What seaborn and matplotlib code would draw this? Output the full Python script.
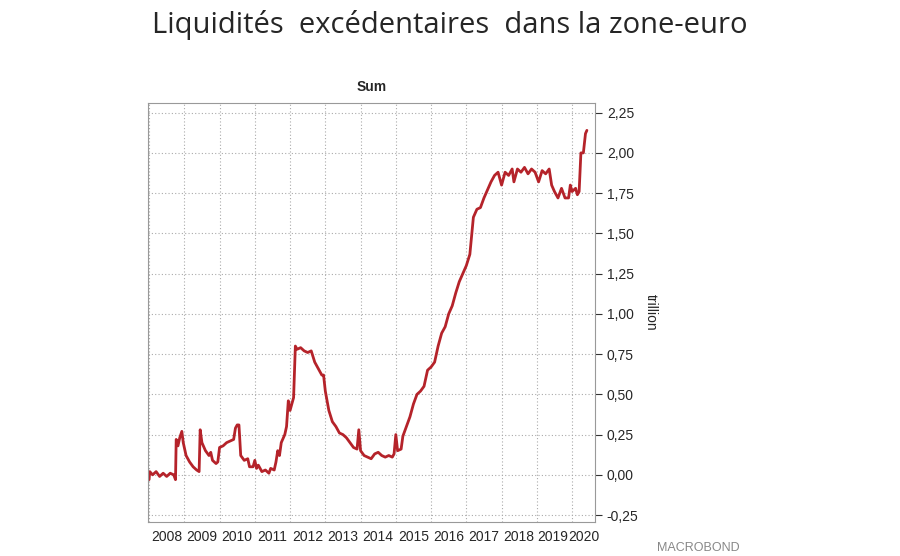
import numpy as np
import pandas as pd
import seaborn as sns
import matplotlib.pyplot as plt

# donnees (annee decimale, trillion EUR)
annee = [2008.0, 2008.02, 2008.1, 2008.2, 2008.3, 2008.4, 2008.5, 2008.6, 2008.7, 2008.75,
         2008.77, 2008.82, 2008.87, 2008.93, 2008.97, 2009.05, 2009.15, 2009.25, 2009.35, 2009.42,
         2009.45, 2009.5, 2009.6, 2009.7, 2009.75, 2009.8, 2009.9, 2009.95, 2010.0, 2010.1,
         2010.2, 2010.3, 2010.4, 2010.45, 2010.5, 2010.55, 2010.6, 2010.7, 2010.8, 2010.85,
         2010.95, 2011.0, 2011.05, 2011.1, 2011.2, 2011.3, 2011.4, 2011.45, 2011.55, 2011.6,
         2011.65, 2011.7, 2011.75, 2011.85, 2011.9, 2011.95, 2012.0, 2012.05, 2012.1, 2012.15,
         2012.2, 2012.3, 2012.4, 2012.5, 2012.6, 2012.7, 2012.8, 2012.9, 2012.95, 2013.0,
         2013.1, 2013.2, 2013.3, 2013.4, 2013.5, 2013.6, 2013.7, 2013.8, 2013.9, 2013.95,
         2014.0, 2014.1, 2014.2, 2014.3, 2014.4, 2014.5, 2014.6, 2014.7, 2014.8, 2014.9,
         2014.95, 2015.0, 2015.05, 2015.15, 2015.2, 2015.3, 2015.4, 2015.5, 2015.6, 2015.7,
         2015.8, 2015.9, 2016.0, 2016.1, 2016.2, 2016.3, 2016.4, 2016.5, 2016.6, 2016.7,
         2016.8, 2016.9, 2017.0, 2017.1, 2017.2, 2017.3, 2017.4, 2017.5, 2017.6, 2017.7,
         2017.8, 2017.9, 2018.0, 2018.1, 2018.2, 2018.3, 2018.35, 2018.45, 2018.55, 2018.65,
         2018.75, 2018.85, 2018.95, 2019.05, 2019.15, 2019.25, 2019.35, 2019.42, 2019.5, 2019.6,
         2019.7, 2019.8, 2019.9, 2019.95, 2020.0, 2020.1, 2020.15, 2020.2, 2020.25, 2020.32,
         2020.38, 2020.42]
liquidite = [-0.03, 0.02, 0.0, 0.02, -0.01, 0.01, -0.01, 0.01, 0.0, -0.03,
             0.22, 0.18, 0.23, 0.27, 0.2, 0.12, 0.08, 0.05, 0.03, 0.02,
             0.28, 0.2, 0.15, 0.12, 0.14, 0.09, 0.07, 0.08, 0.17, 0.18,
             0.2, 0.21, 0.22, 0.29, 0.31, 0.31, 0.12, 0.09, 0.1, 0.05,
             0.05, 0.09, 0.04, 0.06, 0.02, 0.03, 0.01, 0.04, 0.03, 0.08,
             0.15, 0.12, 0.2, 0.25, 0.3, 0.46, 0.4, 0.44, 0.48, 0.8,
             0.78, 0.79, 0.77, 0.76, 0.77, 0.7, 0.66, 0.62, 0.62, 0.52,
             0.4, 0.33, 0.3, 0.26, 0.25, 0.23, 0.2, 0.17, 0.16, 0.28,
             0.15, 0.12, 0.11, 0.1, 0.13, 0.14, 0.12, 0.11, 0.12, 0.11,
             0.13, 0.25, 0.15, 0.16, 0.24, 0.3, 0.36, 0.44, 0.5, 0.52,
             0.55, 0.65, 0.67, 0.7, 0.8, 0.88, 0.92, 1.0, 1.05, 1.13,
             1.2, 1.25, 1.3, 1.37, 1.6, 1.65, 1.66, 1.72, 1.77, 1.82,
             1.86, 1.88, 1.8, 1.88, 1.86, 1.9, 1.82, 1.9, 1.88, 1.91,
             1.87, 1.9, 1.88, 1.82, 1.89, 1.87, 1.9, 1.8, 1.76, 1.72,
             1.78, 1.72, 1.72, 1.8, 1.76, 1.78, 1.74, 1.76, 2.0, 2.0,
             2.12, 2.14]
annees_ticks = list(range(2008, 2021))
annees_labels = [str(a) for a in range(2008, 2021)]
pos_labels = [a + 0.5 for a in range(2008, 2019)] + [2019.45, 2020.33]
y_ticks = [-0.25, 0.0, 0.25, 0.5, 0.75, 1.0, 1.25, 1.5, 1.75, 2.0, 2.25]

df = pd.DataFrame({'annee': annee, 'liquidite': liquidite})

sns.set_style('white')
plt.rcParams['font.family'] = ['Liberation Sans', 'DejaVu Sans']

fig = plt.figure(figsize=(9, 5.56), dpi=100)
ax = fig.add_axes([148 / 900, 34 / 556, 447 / 900, 419 / 556])

sns.lineplot(data=df, x='annee', y='liquidite', ax=ax, color='#b5232a', linewidth=2)

ax.set_xlim(2007.97, 2020.65)
ax.set_ylim(-0.293, 2.31)
ax.set_xticks(annees_ticks)
ax.set_xticklabels([])
ax.set_xticks(pos_labels, minor=True)
ax.set_xticklabels(annees_labels, minor=True)
ax.tick_params(axis='x', which='major', length=5, direction='out', color='#333333')
ax.tick_params(axis='x', which='minor', length=0, labelsize=10, pad=6)
ax.yaxis.tick_right()
ax.set_yticks(y_ticks)
ax.set_yticklabels([f'{v:.2f}'.replace('.', ',') for v in y_ticks])
ax.tick_params(axis='y', length=5, labelsize=10, color='#333333')
ax.grid(True, which='major', linestyle=(0, (1, 2)), color='#aaaaaa', linewidth=0.8)
for s in ax.spines.values():
    s.set_color('#999999')
ax.set_xlabel('')
ax.set_ylabel('trillion', rotation=-90, fontsize=10, labelpad=14)
ax.yaxis.set_label_position('right')
ax.set_title('Sum', fontsize=10, fontweight='bold', pad=9)

fig.text(0.5, 0.955, 'Liquidités  excédentaires  dans la zone-euro', ha='center', va='center',
         fontsize=21, family=['Open Sans', 'DejaVu Sans'])
fig.text(0.73, 0.003, 'MACROBOND', fontsize=9, color='#888888', va='bottom')

fig.savefig('out.png', dpi=100)
